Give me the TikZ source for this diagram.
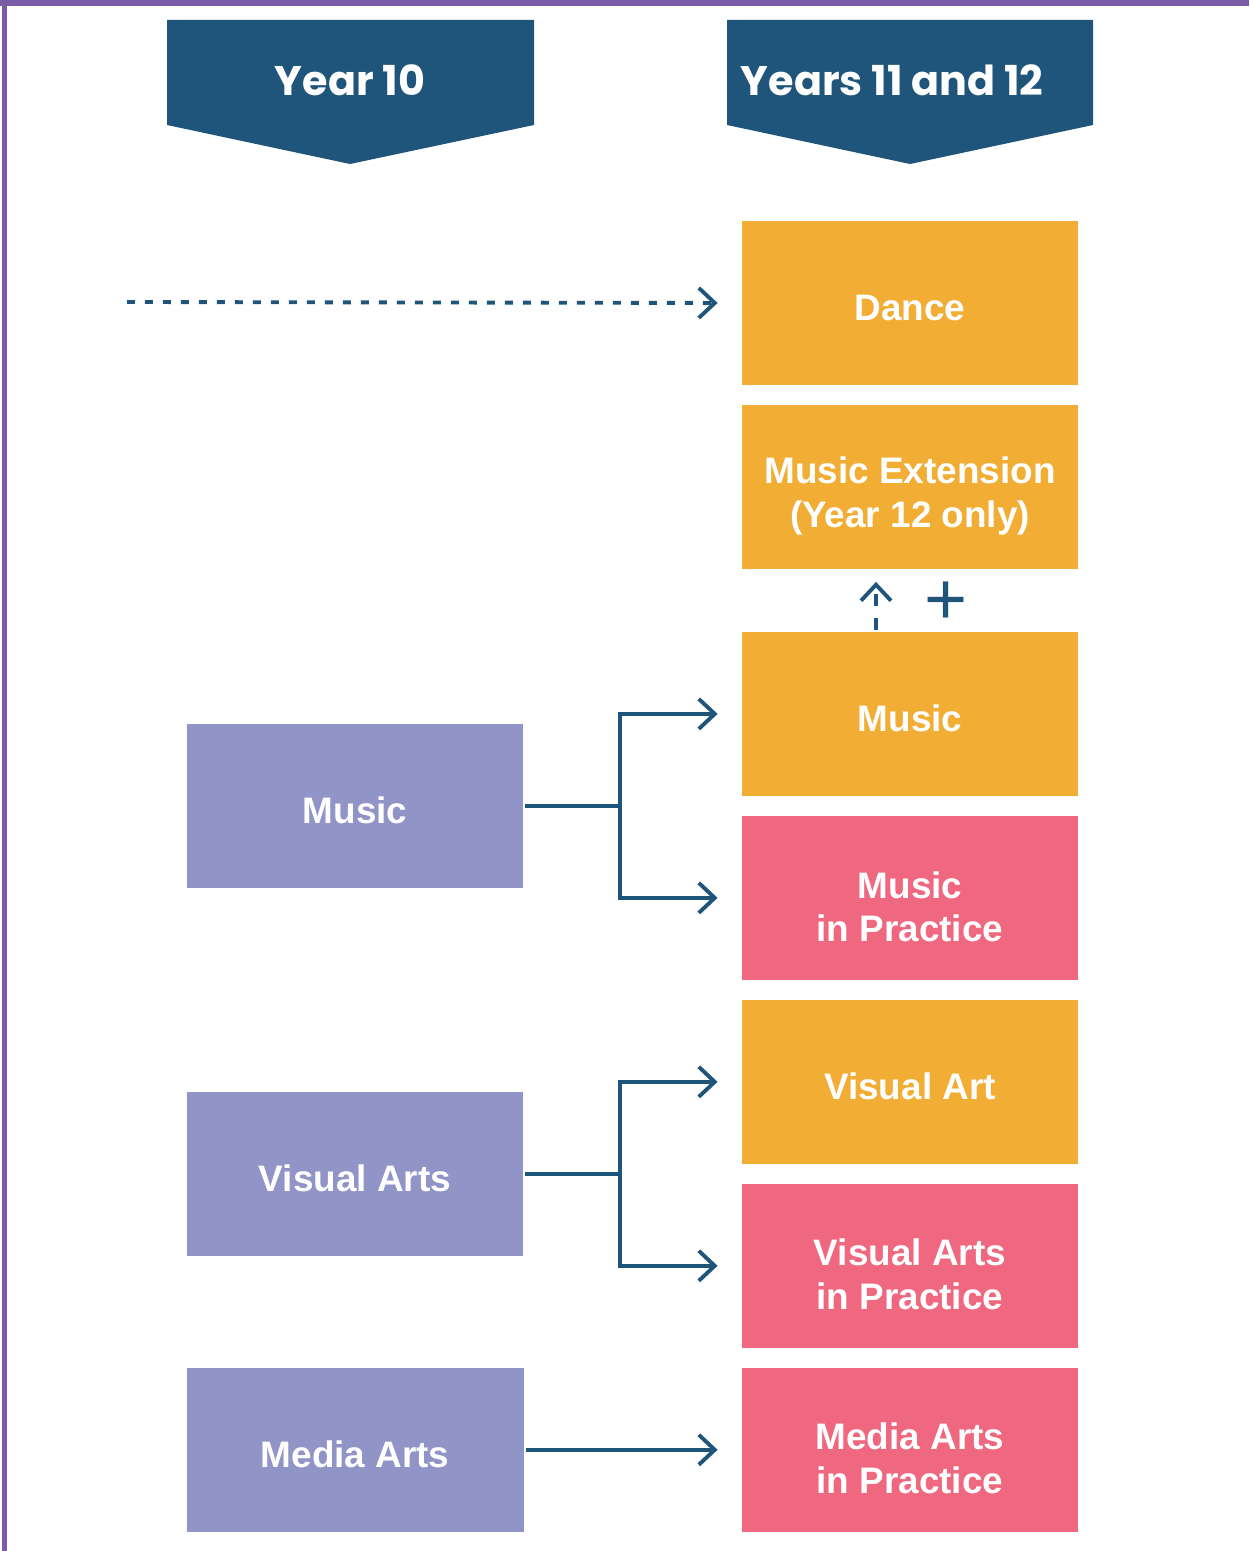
\documentclass[tikz,border=0pt]{standalone}
\usepackage{fontspec}
\setmainfont{Liberation Sans}
\newfontfamily\headfont{Poppins}
\usepackage{tikz}
\usetikzlibrary{positioning}
\usetikzlibrary{arrows.meta}

\definecolor{navy}{RGB}{31,85,122}
\definecolor{frame}{RGB}{123,92,166}
\definecolor{amber}{RGB}{242,173,53}
\definecolor{rose}{RGB}{239,104,128}
\definecolor{lilac}{RGB}{145,148,199}

% taller first line, so two-line labels sit a bit low
\newcommand{\lift}{\rule{0pt}{25.4pt}}

\begin{document}
\begin{tikzpicture}[
            x = 0.02cm, y = -0.02cm, % one unit per pixel, y downwards
            > = {Straight Barb[length=3.2mm,width=6mm]}, % arrow head style
            shorten > = 0.44cm, % keep arrow head off the box
            line width = 2.2pt,
            node distance = 3.68cm % distance between box centres
        ]

        \tikzstyle{box}=[
            rectangle,
            minimum width = 6.74cm,
            minimum height = 3.28cm,
            inner sep = 0pt,
            align = center,
            text = white,
            font = \bfseries\fontsize{21}{25}\selectfont,
            execute at begin node = {\rule{0pt}{20.3pt}} % sit text a bit low
        ]
        \tikzstyle{head}=[
            text = white,
            font = \headfont\bfseries\fontsize{23.5}{28}\selectfont
        ]
        \tikzstyle{link}=[navy, ->]

        \useasboundingbox (0,0) rectangle (1249,1551);

        % frame
        \fill[frame] (0,0) rectangle (1249,6);
        \fill[frame] (2,0) rectangle (7,1551);

        % headers
        \fill[navy] (167,20) -- (534,20) -- (534,125) -- (350,164) -- (167,125) -- cycle;
        \node[head] (H10) at (350,80) {Year 10};
        \fill[navy] (727,20) -- (1093,20) -- (1093,125) -- (910,164) -- (727,125) -- cycle;
        \node[head] (H12) at (892,80) {Years 11 and 12};

        % years 11 and 12
        \node[box, fill=amber] (D) at (910,303) {Dance};
        \node[box, fill=amber] (ME) [below of=D] {\lift Music Extension\\(Year 12 only)};
        \node[box, fill=amber] (M) [below of=ME, node distance=4.54cm] {Music};
        \node[box, fill=rose] (MP) [below of=M] {\lift Music\\in Practice};
        \node[box, fill=amber] (VA) [below of=MP] {Visual Art};
        \node[box, fill=rose] (VP) [below of=VA] {\lift Visual Arts\\in Practice};
        \node[box, fill=rose] (MAP) [below of=VP] {\lift Media Arts\\in Practice};

        % year 10
        \node[box, fill=lilac] (LM) at (355,806) {Music};
        \node[box, fill=lilac] (LV) at (355,1174) {Visual Arts};
        \node[box, fill=lilac] (LMA) [left of=MAP, node distance=11.1cm] {Media Arts};

        % dance comes in from outside
        \coordinate (in) at (127,302);
        \draw[link, dash pattern=on 0.16cm off 0.2cm] (in) -- (D.west);

        % extension
        \draw[link, dash pattern=on 0.24cm off 0.24cm, shorten > = 0.22cm]
            ([xshift=-0.68cm]M.north) -- ([xshift=-0.68cm]ME.south);
        \node[text=navy, font=\fontsize{42}{42}\selectfont] (P) at (946,603) {+};

        % pathways
        \draw[link] (LM.east) -- ++(95,0) |- (M.west);
        \draw[link] (LM.east) -- ++(95,0) |- (MP.west);
        \draw[link] (LV.east) -- ++(95,0) |- (VA.west);
        \draw[link] (LV.east) -- ++(95,0) |- (VP.west);
        \draw[link] (LMA.east) -- (MAP.west);

\end{tikzpicture}
\end{document}
